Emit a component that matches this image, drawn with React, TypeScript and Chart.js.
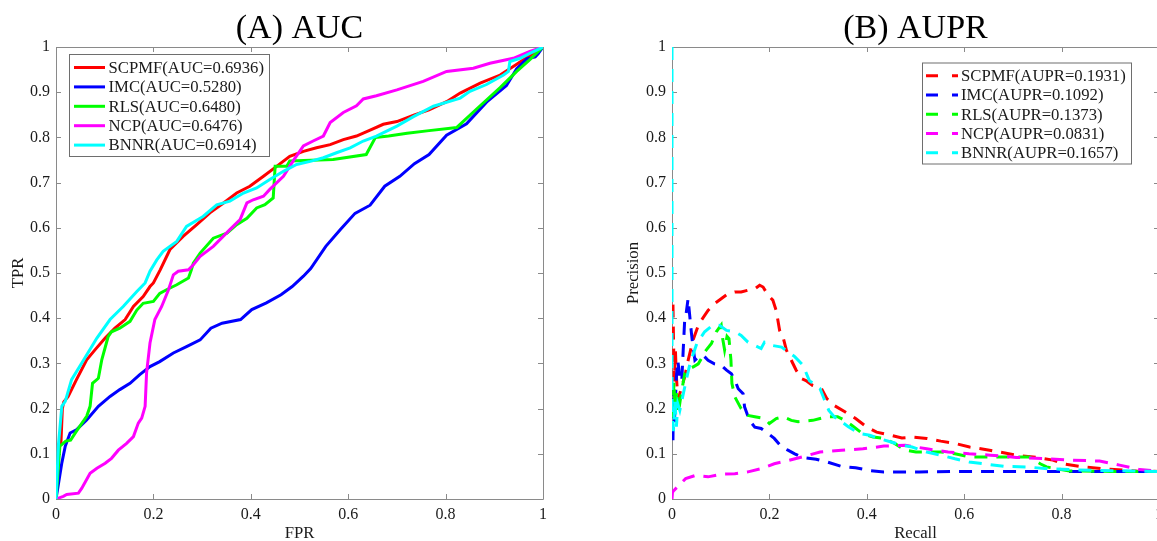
import React, { useEffect, useRef } from "react";
import { Chart, registerables } from "chart.js";

Chart.register(...registerables);

const FONT_FAMILY = "'Liberation Serif', 'Times New Roman', Times, serif";
const AXIS_COLOR = "#8a8a8a";
const TEXT_COLOR = "#1a1a1a";

// ---------- shared series info ----------
const methodNames = ["SCPMF", "IMC", "RLS", "NCP", "BNNR"];
const seriesColors = ["#ff0000", "#0000ff", "#00ff00", "#ff00ff", "#00ffff"];
const aucValues = ["0.6936", "0.5280", "0.6480", "0.6476", "0.6914"];
const auprValues = ["0.1931", "0.1092", "0.1373", "0.0831", "0.1657"];

// ---------- tick labels ----------
const xTickValues = [0, 0.2, 0.4, 0.6, 0.8, 1];
const yTickValues = [0, 0.1, 0.2, 0.3, 0.4, 0.5, 0.6, 0.7, 0.8, 0.9, 1];

// ---------- (A) ROC curves ----------
const scpmfFpr = [0, 0.006, 0.01, 0.013, 0.016, 0.025, 0.042, 0.063, 0.08, 0.101, 0.121, 0.142, 0.159, 0.179, 0.193, 0.2, 0.214, 0.234, 0.261, 0.289, 0.316, 0.344, 0.371, 0.398, 0.426, 0.453, 0.48, 0.508, 0.535, 0.563, 0.59, 0.617, 0.645, 0.672, 0.7, 0.736, 0.766, 0.802, 0.83, 0.871, 0.912, 0.946, 0.975, 1];
const scpmfTpr = [0, 0.117, 0.12, 0.2, 0.215, 0.227, 0.264, 0.308, 0.33, 0.356, 0.378, 0.397, 0.426, 0.448, 0.47, 0.478, 0.507, 0.552, 0.581, 0.607, 0.633, 0.655, 0.677, 0.692, 0.714, 0.736, 0.758, 0.769, 0.777, 0.784, 0.795, 0.803, 0.816, 0.829, 0.835, 0.85, 0.861, 0.879, 0.898, 0.92, 0.938, 0.962, 0.983, 1];

const imcFpr = [0, 0.012, 0.019, 0.029, 0.042, 0.063, 0.087, 0.111, 0.131, 0.152, 0.172, 0.193, 0.213, 0.241, 0.268, 0.296, 0.318, 0.341, 0.379, 0.402, 0.432, 0.462, 0.485, 0.508, 0.523, 0.554, 0.584, 0.614, 0.645, 0.675, 0.706, 0.736, 0.766, 0.802, 0.843, 0.884, 0.925, 0.946, 0.967, 0.984, 0.99, 1];
const imcTpr = [0, 0.08, 0.117, 0.146, 0.153, 0.175, 0.205, 0.227, 0.242, 0.256, 0.275, 0.293, 0.304, 0.323, 0.337, 0.352, 0.378, 0.389, 0.397, 0.419, 0.434, 0.452, 0.47, 0.493, 0.51, 0.559, 0.596, 0.632, 0.65, 0.692, 0.714, 0.742, 0.762, 0.805, 0.83, 0.878, 0.915, 0.952, 0.974, 0.978, 0.985, 1];

const rlsFpr = [0, 0.008, 0.02, 0.03, 0.042, 0.063, 0.07, 0.075, 0.087, 0.094, 0.107, 0.114, 0.131, 0.152, 0.166, 0.179, 0.2, 0.213, 0.227, 0.248, 0.272, 0.278, 0.282, 0.296, 0.323, 0.351, 0.371, 0.392, 0.412, 0.429, 0.446, 0.45, 0.474, 0.48, 0.569, 0.637, 0.656, 0.683, 0.721, 0.766, 0.823, 0.871, 0.912, 0.946, 0.973, 1];
const rlsTpr = [0, 0.117, 0.128, 0.13, 0.15, 0.183, 0.205, 0.256, 0.267, 0.308, 0.359, 0.37, 0.378, 0.393, 0.418, 0.433, 0.437, 0.455, 0.463, 0.474, 0.489, 0.507, 0.522, 0.544, 0.577, 0.588, 0.607, 0.621, 0.644, 0.651, 0.666, 0.736, 0.736, 0.748, 0.751, 0.762, 0.8, 0.803, 0.809, 0.815, 0.822, 0.87, 0.91, 0.946, 0.972, 1];

const ncpFpr = [0, 0.015, 0.022, 0.046, 0.053, 0.07, 0.084, 0.101, 0.114, 0.128, 0.145, 0.159, 0.169, 0.176, 0.183, 0.186, 0.193, 0.203, 0.217, 0.231, 0.241, 0.251, 0.272, 0.282, 0.296, 0.323, 0.357, 0.378, 0.392, 0.405, 0.426, 0.439, 0.467, 0.487, 0.508, 0.528, 0.549, 0.563, 0.59, 0.617, 0.631, 0.658, 0.7, 0.754, 0.802, 0.857, 0.891, 0.939, 0.973, 1];
const ncpTpr = [0, 0.006, 0.01, 0.013, 0.024, 0.057, 0.068, 0.079, 0.09, 0.108, 0.123, 0.138, 0.168, 0.179, 0.205, 0.279, 0.345, 0.397, 0.426, 0.463, 0.496, 0.504, 0.507, 0.518, 0.537, 0.559, 0.596, 0.618, 0.655, 0.662, 0.67, 0.685, 0.714, 0.748, 0.781, 0.792, 0.803, 0.833, 0.855, 0.87, 0.885, 0.892, 0.905, 0.924, 0.946, 0.953, 0.964, 0.975, 0.99, 1];

const bnnrFpr = [0, 0.005, 0.012, 0.019, 0.032, 0.057, 0.084, 0.111, 0.138, 0.166, 0.183, 0.193, 0.207, 0.22, 0.248, 0.268, 0.302, 0.33, 0.357, 0.385, 0.412, 0.439, 0.467, 0.494, 0.522, 0.549, 0.576, 0.604, 0.631, 0.658, 0.7, 0.734, 0.775, 0.83, 0.85, 0.884, 0.919, 0.929, 0.932, 0.953, 0.973, 1];
const bnnrTpr = [0, 0.12, 0.205, 0.216, 0.264, 0.308, 0.356, 0.397, 0.426, 0.459, 0.478, 0.504, 0.529, 0.548, 0.57, 0.603, 0.625, 0.651, 0.659, 0.677, 0.688, 0.707, 0.725, 0.74, 0.747, 0.755, 0.766, 0.777, 0.792, 0.803, 0.825, 0.846, 0.869, 0.887, 0.902, 0.917, 0.938, 0.946, 0.968, 0.975, 0.986, 1];

// ---------- (B) PR curves ----------
const scpmfRecall = [0.002, 0.003, 0.004, 0.005, 0.007, 0.009, 0.011, 0.013, 0.016, 0.026, 0.033, 0.043, 0.054, 0.06, 0.074, 0.087, 0.101, 0.115, 0.129, 0.142, 0.156, 0.17, 0.18, 0.187, 0.197, 0.207, 0.214, 0.221, 0.228, 0.235, 0.245, 0.255, 0.266, 0.275, 0.289, 0.307, 0.318, 0.333, 0.355, 0.377, 0.399, 0.42, 0.45, 0.472, 0.493, 0.523, 0.552, 0.581, 0.611, 0.652, 0.707, 0.748, 0.782, 0.803, 0.844, 0.899, 0.954, 1];
const scpmfPrecision = [0.43, 0.36, 0.3, 0.26, 0.33, 0.27, 0.24, 0.22, 0.233, 0.27, 0.306, 0.351, 0.384, 0.395, 0.417, 0.432, 0.443, 0.454, 0.458, 0.458, 0.462, 0.465, 0.473, 0.469, 0.451, 0.44, 0.417, 0.373, 0.358, 0.329, 0.307, 0.285, 0.266, 0.262, 0.251, 0.244, 0.222, 0.207, 0.193, 0.178, 0.16, 0.148, 0.141, 0.135, 0.137, 0.134, 0.128, 0.123, 0.115, 0.108, 0.097, 0.092, 0.086, 0.078, 0.071, 0.066, 0.062, 0.061];

const imcRecall = [0.002, 0.003, 0.005, 0.007, 0.009, 0.012, 0.016, 0.02, 0.023, 0.026, 0.029, 0.033, 0.036, 0.04, 0.043, 0.047, 0.054, 0.064, 0.074, 0.087, 0.101, 0.112, 0.122, 0.129, 0.136, 0.146, 0.149, 0.159, 0.17, 0.183, 0.197, 0.21, 0.225, 0.238, 0.252, 0.267, 0.296, 0.318, 0.348, 0.377, 0.406, 0.435, 0.508, 0.581, 0.7, 0.85, 1];
const imcPrecision = [0.13, 0.25, 0.17, 0.22, 0.27, 0.306, 0.27, 0.26, 0.329, 0.395, 0.41, 0.443, 0.41, 0.366, 0.337, 0.307, 0.314, 0.318, 0.307, 0.299, 0.296, 0.285, 0.277, 0.263, 0.244, 0.233, 0.204, 0.174, 0.159, 0.156, 0.145, 0.134, 0.115, 0.108, 0.1, 0.092, 0.088, 0.082, 0.072, 0.069, 0.063, 0.06, 0.06, 0.061, 0.061, 0.061, 0.061];

const rlsRecall = [0.002, 0.004, 0.006, 0.01, 0.013, 0.018, 0.026, 0.033, 0.043, 0.054, 0.06, 0.067, 0.081, 0.091, 0.101, 0.104, 0.108, 0.113, 0.117, 0.121, 0.123, 0.129, 0.142, 0.156, 0.17, 0.19, 0.2, 0.214, 0.228, 0.245, 0.259, 0.289, 0.318, 0.34, 0.355, 0.369, 0.391, 0.413, 0.435, 0.457, 0.479, 0.501, 0.552, 0.581, 0.611, 0.693, 0.734, 0.756, 0.769, 0.816, 0.9, 1];
const rlsPrecision = [0.18, 0.26, 0.2, 0.24, 0.19, 0.226, 0.277, 0.288, 0.292, 0.299, 0.31, 0.325, 0.344, 0.37, 0.385, 0.355, 0.33, 0.36, 0.355, 0.308, 0.256, 0.226, 0.2, 0.185, 0.182, 0.178, 0.167, 0.178, 0.182, 0.174, 0.171, 0.174, 0.182, 0.182, 0.174, 0.163, 0.145, 0.137, 0.134, 0.123, 0.108, 0.104, 0.104, 0.1, 0.093, 0.093, 0.093, 0.078, 0.071, 0.062, 0.061, 0.061];

const ncpRecall = [0, 0.001, 0.004, 0.014, 0.028, 0.048, 0.074, 0.101, 0.129, 0.156, 0.183, 0.21, 0.238, 0.267, 0.304, 0.348, 0.392, 0.435, 0.479, 0.523, 0.567, 0.61, 0.654, 0.707, 0.769, 0.823, 0.878, 0.919, 0.96, 1];
const ncpPrecision = [0, 0.015, 0.019, 0.03, 0.045, 0.052, 0.049, 0.055, 0.056, 0.06, 0.067, 0.078, 0.085, 0.093, 0.104, 0.108, 0.111, 0.117, 0.119, 0.111, 0.104, 0.1, 0.097, 0.092, 0.089, 0.086, 0.084, 0.075, 0.065, 0.062];

const bnnrRecall = [0, 0, 0.003, 0.006, 0.009, 0.012, 0.016, 0.029, 0.037, 0.051, 0.067, 0.084, 0.098, 0.112, 0.129, 0.142, 0.156, 0.17, 0.183, 0.19, 0.204, 0.225, 0.238, 0.252, 0.269, 0.282, 0.304, 0.311, 0.322, 0.333, 0.348, 0.362, 0.384, 0.406, 0.428, 0.45, 0.472, 0.493, 0.523, 0.552, 0.581, 0.61, 0.639, 0.683, 0.727, 0.771, 0.815, 0.873, 0.946, 1];
const bnnrPrecision = [1, 0.2, 0.15, 0.22, 0.16, 0.21, 0.196, 0.262, 0.3, 0.344, 0.37, 0.385, 0.384, 0.373, 0.37, 0.362, 0.347, 0.34, 0.333, 0.347, 0.34, 0.336, 0.326, 0.315, 0.296, 0.262, 0.244, 0.225, 0.196, 0.182, 0.171, 0.16, 0.145, 0.141, 0.133, 0.126, 0.119, 0.115, 0.104, 0.097, 0.089, 0.082, 0.078, 0.072, 0.071, 0.067, 0.065, 0.063, 0.062, 0.061];

const rocX = [scpmfFpr, imcFpr, rlsFpr, ncpFpr, bnnrFpr];
const rocY = [scpmfTpr, imcTpr, rlsTpr, ncpTpr, bnnrTpr];
const prX = [scpmfRecall, imcRecall, rlsRecall, ncpRecall, bnnrRecall];
const prY = [scpmfPrecision, imcPrecision, rlsPrecision, ncpPrecision, bnnrPrecision];

const zip = (xs: number[], ys: number[]) => xs.map((x, i) => ({ x, y: ys[i] }));
const fmtTick = (v: any) => String(+Number(v).toFixed(1));

// ---------- plugins ----------
const framePlugin = {
  id: "matlabFrame",
  beforeDatasetsDraw(chart: any) {
    const { ctx, chartArea } = chart;
    const { left, right, top, bottom } = chartArea;
    const xs = chart.scales.x;
    const ys = chart.scales.y;
    const tl = 5;
    ctx.save();
    ctx.strokeStyle = AXIS_COLOR;
    ctx.lineWidth = 1;
    ctx.beginPath();
    ctx.rect(Math.round(left) + 0.5, Math.round(top) + 0.5, Math.round(right - left), Math.round(bottom - top));
    xs.ticks.forEach((t: any) => {
      const px = Math.round(xs.getPixelForValue(t.value)) + 0.5;
      ctx.moveTo(px, bottom);
      ctx.lineTo(px, bottom - tl);
      ctx.moveTo(px, top);
      ctx.lineTo(px, top + tl);
    });
    ys.ticks.forEach((t: any) => {
      const py = Math.round(ys.getPixelForValue(t.value)) + 0.5;
      ctx.moveTo(left, py);
      ctx.lineTo(left + tl, py);
      ctx.moveTo(right, py);
      ctx.lineTo(right - tl, py);
    });
    ctx.stroke();
    ctx.restore();
  },
};

const boxLegendPlugin = {
  id: "boxLegend",
  afterDatasetsDraw(chart: any, _args: any, opts: any) {
    const { ctx } = chart;
    ctx.save();
    ctx.fillStyle = "#ffffff";
    ctx.fillRect(opts.x, opts.y, opts.w, opts.h);
    ctx.strokeStyle = "#6e6e6e";
    ctx.lineWidth = 1;
    ctx.strokeRect(opts.x + 0.5, opts.y + 0.5, opts.w, opts.h);
    ctx.font = `${opts.fontSize}px ${FONT_FAMILY}`;
    ctx.textBaseline = "middle";
    ctx.textAlign = "left";
    chart.data.datasets.forEach((ds: any, i: number) => {
      const ry = opts.rowY0 + i * opts.rowStep;
      ctx.strokeStyle = ds.borderColor;
      ctx.lineWidth = 3;
      ctx.setLineDash(opts.dash || []);
      ctx.beginPath();
      ctx.moveTo(opts.sampleX0, ry);
      ctx.lineTo(opts.sampleX1, ry);
      ctx.stroke();
      ctx.setLineDash([]);
      ctx.fillStyle = TEXT_COLOR;
      ctx.fillText(ds.label, opts.textX, ry + 1);
    });
    ctx.restore();
  },
};

function makeConfig(p: any) {
  const tickFont = { family: FONT_FAMILY, size: 16 };
  const titleFont = { family: FONT_FAMILY, size: 16.7, lineHeight: 1.2 };
  return {
    type: "line",
    data: {
      datasets: methodNames.map((name, i) => ({
        label: `${name}(${p.metric}=${p.values[i]})`,
        data: zip(p.xs[i], p.ys[i]),
        borderColor: seriesColors[i],
        backgroundColor: seriesColors[i],
        borderWidth: 3,
        borderDash: p.dash,
        pointRadius: 0,
        tension: 0,
        fill: false,
        order: methodNames.length - i,
      })),
    },
    options: {
      animation: false,
      responsive: false,
      maintainAspectRatio: false,
      events: [],
      layout: { padding: { left: 0, right: p.padRight, top: 0, bottom: 0 } },
      plugins: {
        legend: { display: false },
        tooltip: { enabled: false },
        title: {
          display: true,
          fullSize: false,
          text: p.title,
          color: "#000",
          font: { family: FONT_FAMILY, size: 34, weight: "normal", lineHeight: 1 },
          padding: { top: 12, bottom: 1 },
        },
        boxLegend: p.legend,
      },
      scales: {
        x: {
          type: "linear",
          min: 0,
          max: 1,
          afterBuildTicks: (axis: any) => {
            axis.ticks = xTickValues.map((value) => ({ value }));
          },
          afterFit: (axis: any) => {
            axis.height = 42;
          },
          grid: { display: false, drawTicks: false },
          border: { display: false },
          ticks: { font: tickFont, color: TEXT_COLOR, padding: 6, maxRotation: 0, autoSkip: false, callback: fmtTick },
          title: { display: true, text: p.xTitle, color: TEXT_COLOR, font: { ...titleFont, lineHeight: 0.84 }, padding: { top: 0, bottom: 0 } },
        },
        y: {
          type: "linear",
          min: 0,
          max: 1,
          afterBuildTicks: (axis: any) => {
            axis.ticks = yTickValues.map((value) => ({ value }));
          },
          afterFit: (axis: any) => {
            axis.width = p.yAxisWidth;
          },
          grid: { display: false, drawTicks: false },
          border: { display: false },
          ticks: { font: tickFont, color: TEXT_COLOR, padding: 6, autoSkip: false, callback: fmtTick },
          title: { display: true, text: p.yTitle, color: TEXT_COLOR, font: titleFont, padding: { top: p.yTitlePad, bottom: 0 } },
        },
      },
    },
    plugins: [framePlugin, boxLegendPlugin],
  };
}

export default function App() {
  const leftRef = useRef<HTMLCanvasElement | null>(null);
  const rightRef = useRef<HTMLCanvasElement | null>(null);

  useEffect(() => {
    const left = new Chart(
      leftRef.current as HTMLCanvasElement,
      makeConfig({
        title: "(A) AUC",
        metric: "AUC",
        values: aucValues,
        xs: rocX,
        ys: rocY,
        dash: [],
        xTitle: "FPR",
        yTitle: "TPR",
        yAxisWidth: 56,
        yTitlePad: 8.5,
        padRight: 37,
        legend: { x: 69, y: 54, w: 200, h: 102, rowY0: 67.5, rowStep: 19.4, sampleX0: 74, sampleX1: 105, textX: 108.5, fontSize: 16.7, dash: [] },
      }) as any
    );
    const right = new Chart(
      rightRef.current as HTMLCanvasElement,
      makeConfig({
        title: "(B) AUPR",
        metric: "AUPR",
        values: auprValues,
        xs: prX,
        ys: prY,
        dash: [13, 9],
        xTitle: "Recall",
        yTitle: "Precision",
        yAxisWidth: 92,
        yTitlePad: 44,
        padRight: 21,
        legend: { x: 342, y: 62.5, w: 209, h: 101, rowY0: 75.7, rowStep: 19.25, sampleX0: 346, sampleX1: 378, textX: 381, fontSize: 16.7, dash: [12, 14] },
      }) as any
    );
    return () => {
      left.destroy();
      right.destroy();
    };
  }, []);

  return (
    <div style={{ position: "fixed", left: 0, top: 0, width: 1157, height: 541, overflow: "hidden", background: "#fff" }}>
      <canvas ref={leftRef} width={580} height={541} style={{ position: "absolute", left: 0, top: 0, width: 580, height: 541 }} />
      <canvas ref={rightRef} width={600} height={541} style={{ position: "absolute", left: 580, top: 0, width: 600, height: 541 }} />
    </div>
  );
}
